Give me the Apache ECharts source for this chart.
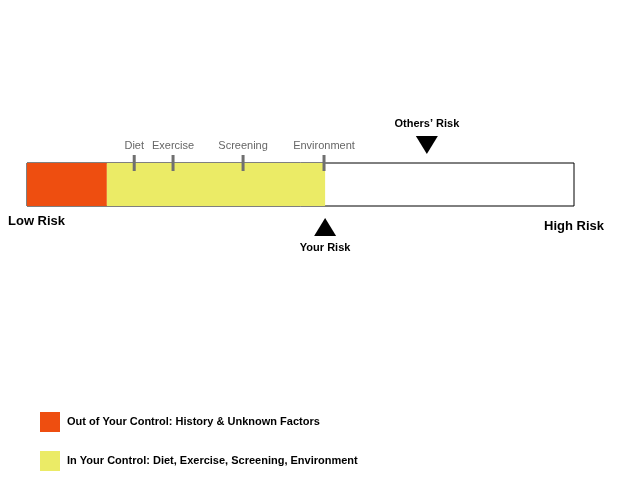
<!DOCTYPE html><html><head><meta charset="utf-8"><script src="https://cdn.jsdelivr.net/npm/echarts@6/dist/echarts.min.js"></script>
<style>body{margin:0}#c{width:640px;height:480px}</style></head><body><div id="c"></div><script>
const segments=[{name:'Out of Your Control: History & Unknown Factors',from:0,to:14.6,color:'#ee4e10'},{name:'In Your Control: Diet, Exercise, Screening, Environment',from:14.6,to:54.5,color:'#ebeb66'}];
const tickNames=['Diet','Exercise','Screening','Environment'];
const tickValues=[19.6,26.7,39.5,54.3];
const yourRisk=54.5, othersRisk=73.1;
const F='Liberation Sans, Arial, sans-serif';
const rectSeries=(data,style,name)=>({type:'custom',name,clip:false,silent:true,data,renderItem:(p,api)=>{const a=api.coord([api.value(0),1]),b=api.coord([api.value(1),0]);return{type:'rect',shape:{x:a[0],y:a[1],width:b[0]-a[0],height:b[1]-a[1]},style:style||{fill:api.visual('color')}};}});
const series=[rectSeries([[0,100]],{fill:'#fff',stroke:'#000',lineWidth:1},'bg')];
segments.forEach(s=>{const r=rectSeries([[s.from,s.to]],null,s.name);r.itemStyle={color:s.color};series.push(r);});
series.push({type:'scatter',clip:false,silent:true,symbol:'rect',symbolSize:[3,16],itemStyle:{color:'#707070',opacity:1},data:tickValues.map((v,i)=>({value:[v,1],name:tickNames[i]})),label:{show:true,position:'top',distance:4,formatter:'{b}',color:'#666',fontSize:11,fontFamily:F}});
series.push({type:'scatter',clip:false,silent:true,symbol:'triangle',symbolSize:[22,18],itemStyle:{color:'#000',opacity:1},data:[{value:[yourRisk,-0.49],name:'Your Risk'}],label:{show:true,position:'bottom',distance:6,formatter:'{b}',color:'#000',fontWeight:'bold',fontSize:11,fontFamily:F}});
series.push({type:'scatter',clip:false,silent:true,symbol:'triangle',symbolRotate:180,symbolSize:[22,18],itemStyle:{color:'#000',opacity:1},data:[{value:[othersRisk,1.42],name:'Others’ Risk'}],label:{show:true,position:'top',distance:6,formatter:'{b}',color:'#000',fontWeight:'bold',fontSize:11,fontFamily:F}});
const legendGraphics=[];
segments.forEach((s,i)=>{legendGraphics.push({type:'rect',left:40,top:412+i*39,shape:{width:20,height:20},style:{fill:s.color}});legendGraphics.push({type:'text',left:67,top:416+i*39,style:{text:s.name,font:'bold 11px '+F,fill:'#000'}});});
const chart=echarts.init(document.getElementById('c'));
chart.setOption({animation:false,
grid:{left:27,right:66,top:163,height:43},
xAxis:{type:'value',min:0,max:100,show:false},
yAxis:{type:'value',min:0,max:1,show:false},
graphic:[{type:'text',left:8,top:215,style:{text:'Low Risk',font:'bold 13px '+F,fill:'#000'}},{type:'text',left:544,top:220,style:{text:'High Risk',font:'bold 13px '+F,fill:'#000'}}].concat(legendGraphics),
series});
</script></body></html>
